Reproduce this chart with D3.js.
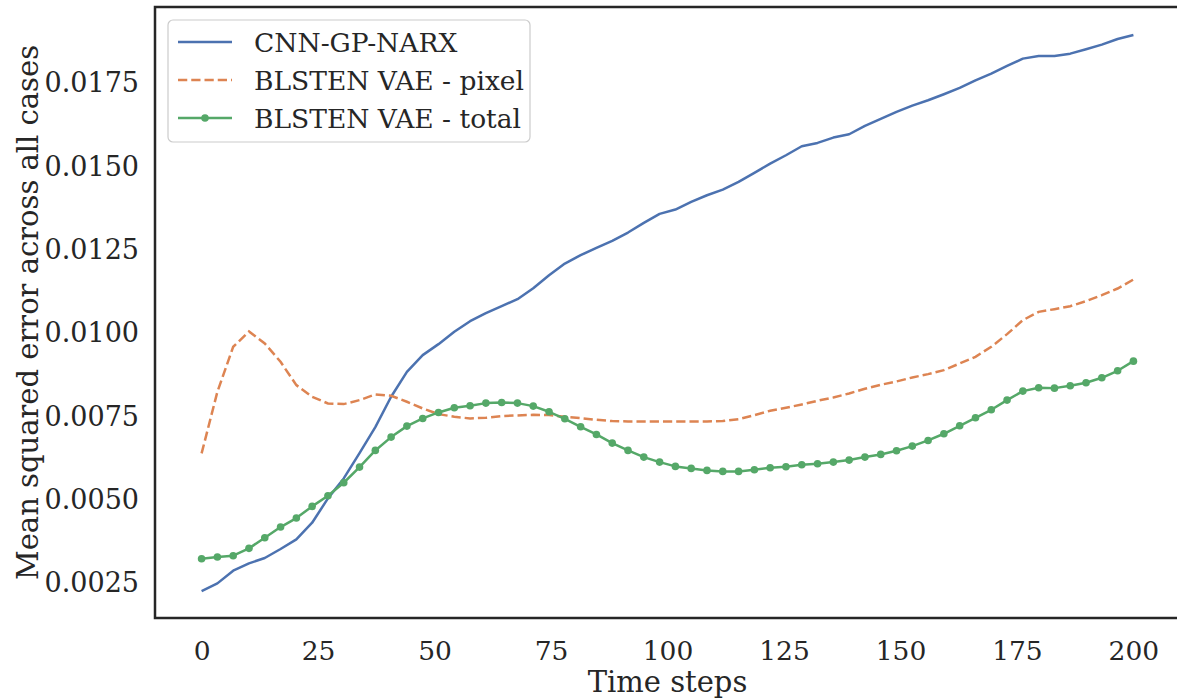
<!DOCTYPE html>
<html><head><meta charset="utf-8">
<script src="https://cdn.jsdelivr.net/npm/d3@7"></script>
<style>body{margin:0;background:#fff;} svg{display:block;}</style>
</head><body>
<svg id="chart" width="1177" height="698"></svg>
<script>
const nPoints = 60;
const timeSteps = d3.range(nPoints).map(i => i * 200 / (nPoints - 1));
const cnnGpNarx = [0.00226,0.00249,0.00287,0.00309,0.00325,0.00352,0.00381,0.00431,0.00504,0.00564,
0.00640,0.00718,0.00809,0.00884,0.00934,0.00967,0.01004,0.01036,0.01060,0.01081,
0.01102,0.01135,0.01174,0.01209,0.01234,0.01256,0.01277,0.01302,0.01331,0.01358,
0.01371,0.01394,0.01414,0.01431,0.01454,0.01481,0.01509,0.01534,0.01561,0.01571,
0.01587,0.01597,0.01622,0.01643,0.01664,0.01683,0.01699,0.01717,0.01736,0.01759,
0.01779,0.01802,0.01824,0.01832,0.01832,0.01839,0.01852,0.01866,0.01883,0.01895];
const blstenPixel = [0.00639,0.00824,0.00959,0.01005,0.00969,0.00914,0.00844,0.00809,0.00789,0.00787,
0.00799,0.00816,0.00812,0.00794,0.00774,0.00757,0.00749,0.00744,0.00746,0.00751,
0.00753,0.00755,0.00754,0.00749,0.00745,0.00740,0.00736,0.00735,0.00735,0.00735,
0.00735,0.00735,0.00735,0.00736,0.00742,0.00754,0.00767,0.00776,0.00786,0.00797,
0.00807,0.00819,0.00833,0.00845,0.00855,0.00867,0.00877,0.00889,0.00909,0.00929,
0.00959,0.00997,0.01039,0.01064,0.01072,0.01081,0.01096,0.01114,0.01134,0.01161];
const blstenTotal = [0.00323,0.00328,0.00332,0.00354,0.00386,0.00418,0.00445,0.00480,0.00512,0.00551,
0.00598,0.00648,0.00688,0.00721,0.00744,0.00762,0.00776,0.00782,0.00790,0.00792,
0.00790,0.00781,0.00764,0.00743,0.00719,0.00696,0.00670,0.00648,0.00628,0.00613,
0.00600,0.00594,0.00588,0.00585,0.00585,0.00590,0.00596,0.00599,0.00605,0.00608,
0.00613,0.00619,0.00628,0.00636,0.00647,0.00661,0.00678,0.00698,0.00722,0.00746,
0.00770,0.00799,0.00826,0.00836,0.00835,0.00842,0.00851,0.00866,0.00887,0.00916];
const seriesNames = ["CNN-GP-NARX","BLSTEN VAE - pixel","BLSTEN VAE - total"];
const xTicks = [0,25,50,75,100,125,150,175,200];
const yTicks = [0.0025,0.0050,0.0075,0.0100,0.0125,0.0150,0.0175];

const colors = ["#4C72B0","#DD8452","#55A868"];
const font = "'DejaVu Serif', serif";
const svg = d3.select("#chart");
const L = 155, R = 1180, T = 7, B = 618;
const x = d3.scaleLinear().domain([-10, 210]).range([L, R]);
const y = d3.scaleLinear().domain([0.00145, 0.01979]).range([B, T]);

svg.append("defs").append("clipPath").attr("id","clip")
  .append("rect").attr("x",L).attr("y",T).attr("width",R-L).attr("height",B-T);

const plot = svg.append("g").attr("clip-path","url(#clip)");
const line = d3.line().x((d,i) => x(timeSteps[i])).y(d => y(d));

plot.append("path").datum(cnnGpNarx).attr("d", line)
  .attr("fill","none").attr("stroke",colors[0]).attr("stroke-width",2.5).attr("stroke-linejoin","round");
plot.append("path").datum(blstenPixel).attr("d", line)
  .attr("fill","none").attr("stroke",colors[1]).attr("stroke-width",2.5).attr("stroke-dasharray","9.25,4");
plot.append("path").datum(blstenTotal).attr("d", line)
  .attr("fill","none").attr("stroke",colors[2]).attr("stroke-width",2.5).attr("stroke-linejoin","round");
plot.selectAll("circle.m").data(blstenTotal).enter().append("circle").attr("class","m")
  .attr("cx",(d,i)=>x(timeSteps[i])).attr("cy",d=>y(d)).attr("r",3.8).attr("fill",colors[2]);

// frame
svg.append("rect").attr("x",L).attr("y",T).attr("width",R-L).attr("height",B-T)
  .attr("fill","none").attr("stroke","#262626").attr("stroke-width",2.5);

// axes
const xAxis = svg.append("g").attr("transform",`translate(0,${B})`)
  .call(d3.axisBottom(x).tickValues(xTicks).tickSize(0).tickPadding(23).tickFormat(d3.format("d")));
xAxis.select(".domain").remove();
xAxis.selectAll("text").attr("font-family",font).attr("font-size",26.5).attr("fill","#262626");

const yAxis = svg.append("g").attr("transform",`translate(${L},0)`)
  .call(d3.axisLeft(y).tickValues(yTicks).tickSize(0).tickPadding(16).tickFormat(d3.format(".4f")));
yAxis.select(".domain").remove();
yAxis.selectAll("text").attr("font-family",font).attr("font-size",27).attr("fill","#262626");

svg.append("text").attr("x",(L+R)/2).attr("y",692).attr("text-anchor","middle")
  .attr("font-family",font).attr("font-size",29).attr("fill","#262626").text("Time steps");
svg.append("text").attr("transform",`translate(28,${(T+B)/2}) rotate(-90)`).attr("text-anchor","middle")
  .attr("dominant-baseline","central")
  .attr("font-family",font).attr("font-size",29).attr("fill","#262626").text("Mean squared error across all cases");

// legend
const lg = svg.append("g");
lg.append("rect").attr("x",168).attr("y",20).attr("width",362).attr("height",122).attr("rx",5)
  .attr("fill","#fff").attr("fill-opacity",0.8).attr("stroke","#cccccc").attr("stroke-width",1.2);
seriesNames.forEach((name, k) => {
  const yy = 42 + k * 38;
  const ln = lg.append("line").attr("x1",178).attr("x2",232).attr("y1",yy).attr("y2",yy)
    .attr("stroke",colors[k]).attr("stroke-width",2.5);
  if (k === 1) ln.attr("stroke-dasharray","9.25,4");
  if (k === 2) lg.append("circle").attr("cx",205).attr("cy",yy).attr("r",3.8).attr("fill",colors[2]);
  lg.append("text").attr("x",254).attr("y",yy).attr("dominant-baseline","central")
    .attr("font-family",font).attr("font-size",26.5).attr("fill","#262626").text(name);
});
</script>
</body></html>
